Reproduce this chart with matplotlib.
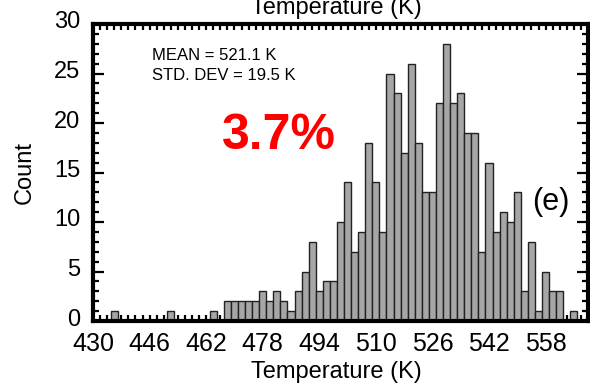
import matplotlib
matplotlib.use("Agg")
import matplotlib.pyplot as plt
import matplotlib.transforms as mtransforms
from matplotlib.ticker import MultipleLocator

plt.rcParams.update({
    "font.family": ["Liberation Sans", "DejaVu Sans"],
    "font.size": 17,
})

# histogram bins (centre, K) and counts
bin_centres = [436, 452, 464, 468, 470, 472, 474, 476, 478, 480, 482, 484, 486,
               488, 490, 492, 494, 496, 498, 500, 502, 504, 506, 508, 510, 512,
               514, 516, 518, 520, 522, 524, 526, 528, 530, 532, 534, 536, 538,
               540, 542, 544, 546, 548, 550, 552, 554, 556, 558, 560, 562, 566]
counts = [1, 1, 1, 2, 2, 2, 2, 2, 3, 2, 3, 2, 1,
          3, 5, 8, 3, 4, 4, 10, 14, 7, 9, 18, 14, 9,
          25, 23, 17, 26, 18, 13, 13, 22, 28, 22, 23, 19, 19,
          7, 16, 9, 11, 10, 13, 3, 8, 1, 5, 3, 3, 1]
bin_width = 2
x_ticks = [430, 446, 462, 478, 494, 510, 526, 542, 558]

fig = plt.figure(figsize=(5.9, 3.88), dpi=100)
ax = fig.add_axes([93 / 590, 1 - 321 / 388, 495 / 590, 297 / 388])

ax.bar(bin_centres, counts, width=bin_width, color="#a6a6a6",
       edgecolor="#222222", linewidth=1.0, zorder=2)

ax.set_xlim(430, 570)
ax.set_ylim(0, 30)
ax.set_xticks(x_ticks)
ax.xaxis.set_minor_locator(MultipleLocator(2))
ax.yaxis.set_major_locator(MultipleLocator(5))
ax.yaxis.set_minor_locator(MultipleLocator(1))

for s in ax.spines.values():
    s.set_linewidth(3)
    s.set_zorder(5)

ax.tick_params(axis="both", which="both", direction="in", top=True, right=True,
               width=1.6)
ax.tick_params(axis="x", which="major", length=4, pad=8, labelsize=18)
ax.tick_params(axis="x", which="minor", length=4)
ax.tick_params(axis="y", which="major", length=8, pad=9, labelsize=17)
ax.tick_params(axis="y", which="minor", length=4)

# y tick labels sit a few pixels above their ticks in the original
shift = mtransforms.ScaledTranslation(0, 4 / 100, fig.dpi_scale_trans)
for lbl in ax.get_yticklabels():
    lbl.set_transform(lbl.get_transform() + shift)

ax.set_ylabel("Count", fontsize=17, labelpad=13)

# bottom and (clipped at the top edge, as in the original) top axis titles
fig.text(336 / 590, 1 - 378 / 388, "Temperature (K)", ha="center",
         va="baseline", fontsize=17)
fig.text(336 / 590, 1 - 14 / 388, "Temperature (K)", ha="center",
         va="baseline", fontsize=17)

ax.text(152 / 590, 1 - 60 / 388, "MEAN = 521.1 K", transform=fig.transFigure,
        fontsize=12, va="baseline", ha="left")
ax.text(152 / 590, 1 - 80 / 388, "STD. DEV = 19.5 K", transform=fig.transFigure,
        fontsize=12, va="baseline", ha="left")
ax.text(279 / 590, 1 - 136 / 388, "3.7%", transform=fig.transFigure,
        fontsize=36, fontweight="bold", color="#ff0000", ha="center", va="center")
ax.text(551 / 590, 1 - 202 / 388, "(e)", transform=fig.transFigure,
        fontsize=22, ha="center", va="center")

fig.savefig("out.png", dpi=100, facecolor="white")
